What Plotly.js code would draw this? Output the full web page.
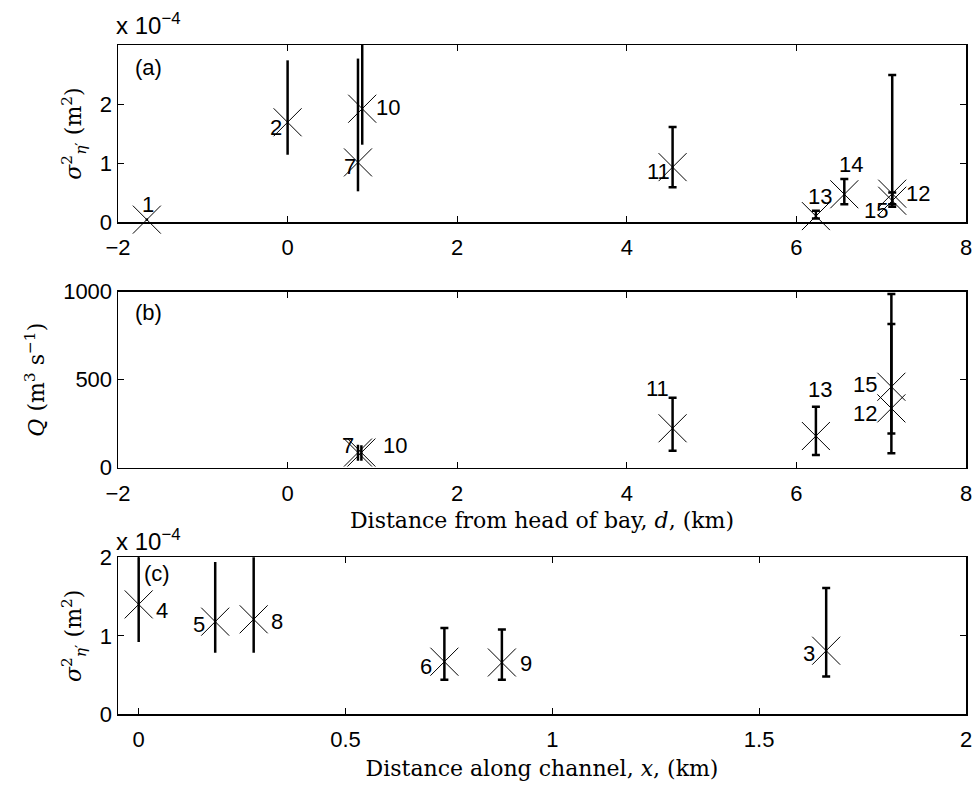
<!DOCTYPE html>
<html>
<head>
<meta charset="utf-8">
<script src="https://cdn.plot.ly/plotly-3.0.1.min.js"></script>
<style>html,body{margin:0;padding:0;background:#fff;}#chart{width:974px;height:787px;}</style>
</head>
<body>
<div id="chart"></div>
<script>
// ---------- DATA ----------
// Panel (a): variance (units of 1e-4 m^2) vs distance from head of bay d (km)
var aIds = ['1','2','7','10','11','13','14','12','15'];
var aD   = [-1.66, 0, 0.83, 0.88, 4.54, 6.23, 6.565, 7.13, 7.13];
var aVar = [0.04, 1.69, 1.01, 1.92, 0.93, 0.10, 0.47, 0.48, 0.36];
var aLo  = [0.02, 1.14, 0.52, 1.31, 0.59, 0.06, 0.30, 0.30, 0.26];
var aHi  = [0.06, 2.74, 2.77, 3.40, 1.61, 0.19, 0.73, 2.49, 0.50];

// Panel (b): Q (m^3 s^-1) vs d (km)
var bIds = ['7','10','11','13','15','12'];
var bD   = [0.83, 0.87, 4.54, 6.23, 7.12, 7.12];
var bQ   = [86, 86, 224, 180, 460, 337];
var bLo  = [40, 40, 97, 72, 82, 195];
var bHi  = [130, 128, 398, 347, 987, 816];

// Panel (c): variance (units of 1e-4 m^2) vs distance along channel x (km)
var cIds = ['4','5','8','6','9','3'];
var cX   = [0, 0.185, 0.278, 0.739, 0.878, 1.662];
var cVar = [1.40, 1.18, 1.21, 0.67, 0.66, 0.81];
var cLo  = [0.92, 0.785, 0.785, 0.44, 0.44, 0.48];
var cHi  = [2.30, 1.94, 2.30, 1.10, 1.08, 1.61];

// Tick labels
var dTicks = [-2, 0, 2, 4, 6, 8];
var aYTicks = [0, 1, 2];
var bYTicks = [0, 500, 1000];
var cXTicks = [0, 0.5, 1, 1.5, 2];
var cXTickText = ['0', '0.5', '1', '1.5', '2'];
var cYTicks = [0, 1, 2];

// ---------- STYLE / POSITIONS ----------
var aCapped = [false, false, false, false, true, true, true, true, true];
var bCapped = [false, false, true, true, true, true];
var cCapped = [false, false, false, true, true, true];
var aShift = [[1,15],[-12,-5],[-8,-4],[26,1],[-14,-4],[4,20],[7,30],[26,0],[-16,-10]];
var bShift = [[-10,7],[34,7],[-15,40],[4,47],[-26,2],[-26,-5]];
var cShift = [[23,-6],[-16,-3],[23,-2.5],[-18,-5],[24,-1],[-17,-3]];

var sans = 'Liberation Sans, Arial, Helvetica, sans-serif';
var serif = 'DejaVu Serif, Liberation Serif, serif';
var FS = 22;

function pick(arr, mask, val) { return arr.filter(function(_, i){ return mask[i] === val; }); }

function errTraces(x, y, lo, hi, mask, xa, ya) {
  var out = [];
  [true, false].forEach(function(cap) {
    var xs = pick(x, mask, cap), ys = pick(y, mask, cap), l = pick(lo, mask, cap), h = pick(hi, mask, cap);
    if (!xs.length) return;
    out.push({
      type: 'scatter', mode: 'markers', x: xs, y: ys, xaxis: xa, yaxis: ya,
      marker: {size: 1, color: 'rgba(0,0,0,0)'}, hoverinfo: 'skip', cliponaxis: true,
      error_y: {type: 'data', symmetric: false,
        array: h.map(function(v, i){ return v - ys[i]; }),
        arrayminus: l.map(function(v, i){ return ys[i] - v; }),
        color: 'black', thickness: 2.5, width: cap ? 4 : 0, visible: true}
    });
  });
  return out;
}
function markTrace(x, y, xa, ya) {
  return {type: 'scatter', mode: 'markers', x: x, y: y, xaxis: xa, yaxis: ya, cliponaxis: false,
    hoverinfo: 'skip',
    marker: {symbol: 'x-thin-open', size: 28, color: 'black', line: {color: 'black', width: 1}}};
}

var data = [].concat(
  errTraces(aD, aVar, aLo, aHi, aCapped, 'x', 'y'),
  errTraces(bD, bQ, bLo, bHi, bCapped, 'x2', 'y2'),
  errTraces(cX, cVar, cLo, cHi, cCapped, 'x3', 'y3'),
  [markTrace(aD, aVar, 'x', 'y'), markTrace(bD, bQ, 'x2', 'y2'), markTrace(cX, cVar, 'x3', 'y3')]
);

function labelAnns(ids, x, y, shifts, xr, yr) {
  return ids.map(function(t, i) {
    return {text: t, x: x[i], y: y[i], xref: xr, yref: yr, showarrow: false,
      xanchor: 'center', yanchor: 'middle', xshift: shifts[i][0], yshift: shifts[i][1],
      font: {family: sans, size: FS, color: 'black'}};
  });
}

function axisBase() {
  return {showline: true, linecolor: 'black', linewidth: 1.5, mirror: 'allticks',
    ticks: 'inside', ticklen: 6, tickwidth: 1, tickcolor: 'black',
    showgrid: false, zeroline: false, fixedrange: true,
    tickfont: {family: sans, size: FS, color: 'black'}};
}
function ext(o, e) { for (var k in e) o[k] = e[k]; return o; }
var tfont = {family: serif, size: 22, color: 'black'};

var xd = [118/974, 966/974];
var layout = {
  width: 974, height: 787, margin: {l: 0, r: 0, t: 0, b: 0},
  paper_bgcolor: 'white', plot_bgcolor: 'white', showlegend: false,
  xaxis: ext(axisBase(), {domain: xd, anchor: 'y', range: [-2, 8], tickvals: dTicks, ticklabelstandoff: 5}),
  yaxis: ext(axisBase(), {domain: [1-222/787, 1-45/787], anchor: 'x', range: [0, 3], tickvals: aYTicks,
    title: {text: '<i>σ</i><sup>2</sup><sub><i>η</i>′</sub> (m<sup>2</sup>)', standoff: 12, font: tfont}}),
  xaxis2: ext(axisBase(), {domain: xd, anchor: 'y2', range: [-2, 8], tickvals: dTicks, ticklabelstandoff: 5,
    title: {text: 'Distance from head of bay, <i>d</i>, (km)', standoff: 8, font: tfont}}),
  yaxis2: ext(axisBase(), {domain: [1-467.7/787, 1-291.7/787], anchor: 'x2', range: [0, 1000], tickvals: bYTicks,
    title: {text: '<i>Q</i> (m<sup>3</sup> s<sup>−1</sup>)', standoff: 12, font: tfont}}),
  xaxis3: ext(axisBase(), {domain: xd, anchor: 'y3', range: [-0.05, 2], tickvals: cXTicks, ticktext: cXTickText, ticklabelstandoff: 5,
    title: {text: 'Distance along channel, <i>x</i>, (km)', standoff: 9, font: tfont}}),
  yaxis3: ext(axisBase(), {domain: [1-714.3/787, 1-557.3/787], anchor: 'x3', range: [0, 2], tickvals: cYTicks,
    title: {text: '<i>σ</i><sup>2</sup><sub><i>η</i>′</sub> (m<sup>2</sup>)', standoff: 12, font: tfont}}),
  annotations: [].concat(
    labelAnns(aIds, aD, aVar, aShift, 'x', 'y'),
    labelAnns(bIds, bD, bQ, bShift, 'x2', 'y2'),
    labelAnns(cIds, cX, cVar, cShift, 'x3', 'y3'),
    [
      {text: '(a)', xref: 'x domain', yref: 'y domain', x: 0, y: 1, xanchor: 'left', yanchor: 'top', xshift: 15, yshift: -8, showarrow: false, font: {family: sans, size: FS, color: 'black'}},
      {text: '(b)', xref: 'x2 domain', yref: 'y2 domain', x: 0, y: 1, xanchor: 'left', yanchor: 'top', xshift: 15, yshift: -6, showarrow: false, font: {family: sans, size: FS, color: 'black'}},
      {text: '(c)', xref: 'x3 domain', yref: 'y3 domain', x: 0, y: 1, xanchor: 'left', yanchor: 'top', xshift: 24, yshift: -2, showarrow: false, font: {family: sans, size: FS, color: 'black'}},
      {text: 'x 10<sup>−4</sup>', xref: 'x domain', yref: 'y domain', x: 0, y: 1, xanchor: 'left', yanchor: 'bottom', xshift: -4, yshift: 4, showarrow: false, font: {family: sans, size: 24, color: 'black'}},
      {text: 'x 10<sup>−4</sup>', xref: 'x3 domain', yref: 'y3 domain', x: 0, y: 1, xanchor: 'left', yanchor: 'bottom', xshift: -4, yshift: 0, showarrow: false, font: {family: sans, size: 24, color: 'black'}}
    ]
  )
};

Plotly.newPlot('chart', data, layout, {staticPlot: true, displayModeBar: false});
</script>
</body>
</html>
